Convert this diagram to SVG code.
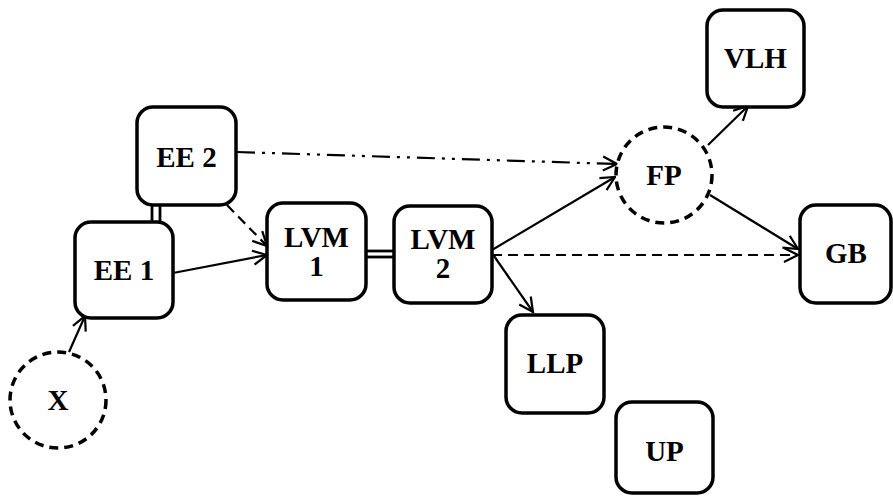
<svg xmlns="http://www.w3.org/2000/svg" width="893" height="496" viewBox="0 0 893 496">
<style>
.box{fill:#fff;stroke:#000;stroke-width:3.5}
.circ{fill:#fff;stroke:#000;stroke-width:3.5;stroke-dasharray:9 6}
.t{font-family:"Liberation Serif","Times New Roman",serif;font-weight:bold;font-size:29px;text-anchor:middle;fill:#000}
.c{fill:none;stroke:#000;stroke-width:2.2}
.dash{stroke-dasharray:10 6}
.dd{stroke-dasharray:18 7 3 7 3 7}
.dbl{fill:none;stroke:#000;stroke-width:2.8}
</style>
<defs>
<marker id="ah" viewBox="0 0 18 18" markerWidth="18" markerHeight="18" refX="16" refY="9" orient="auto" markerUnits="userSpaceOnUse">
<path d="M2,2 L16,9 L2,16" fill="none" stroke="#000" stroke-width="2.2" stroke-dasharray="none"/>
</marker>
</defs>
<g id="connectors">
<line class="dbl" x1="152" y1="204" x2="152" y2="223"/>
<line class="dbl" x1="160" y1="204" x2="160" y2="223"/>
<line class="dbl" x1="365" y1="251" x2="394" y2="251"/>
<line class="dbl" x1="365" y1="257" x2="394" y2="257"/>
<line class="c" x1="69" y1="352" x2="85" y2="316" marker-end="url(#ah)"/>
<line class="c" x1="173" y1="273" x2="267" y2="255" marker-end="url(#ah)"/>
<line class="c dash" x1="227" y1="205" x2="267" y2="246" marker-end="url(#ah)"/>
<line class="c dd" x1="237" y1="152" x2="617" y2="164" marker-end="url(#ah)"/>
<line class="c" x1="492" y1="250" x2="615" y2="177" marker-end="url(#ah)"/>
<line class="c dash" x1="492" y1="255" x2="798" y2="255" marker-end="url(#ah)"/>
<line class="c" x1="494" y1="256" x2="533" y2="312" marker-end="url(#ah)"/>
<line class="c" x1="708" y1="145" x2="748" y2="106" marker-end="url(#ah)"/>
<line class="c" x1="710" y1="195" x2="798" y2="249" marker-end="url(#ah)"/>
</g>
<g id="EE2"><rect class="box" x="137" y="107" width="99" height="98" rx="16"/><text class="t" x="186.5" y="167">EE 2</text></g>
<g id="EE1"><rect class="box" x="75" y="222" width="98" height="96" rx="16"/><text class="t" x="124" y="280">EE 1</text></g>
<g id="LVM1"><rect class="box" x="267" y="203" width="99" height="97" rx="16"/><text class="t" x="316.5" y="247">LVM</text><text class="t" x="316.5" y="276">1</text></g>
<g id="LVM2"><rect class="box" x="394" y="206" width="98" height="97" rx="16"/><text class="t" x="443" y="249">LVM</text><text class="t" x="443" y="278">2</text></g>
<g id="LLP"><rect class="box" x="506" y="315" width="98" height="98" rx="16"/><text class="t" x="555" y="373">LLP</text></g>
<g id="UP"><rect class="box" x="616" y="402" width="97" height="91" rx="16"/><text class="t" x="664.5" y="461">UP</text></g>
<g id="VLH"><rect class="box" x="707" y="10" width="97" height="97" rx="16"/><text class="t" x="755.5" y="68">VLH</text></g>
<g id="GB"><rect class="box" x="800" y="205" width="91" height="98" rx="16"/><text class="t" x="846" y="263">GB</text></g>
<g id="FP"><circle class="circ" cx="664" cy="175" r="48"/><text class="t" x="664" y="185">FP</text></g>
<g id="X"><circle class="circ" cx="58" cy="400" r="48"/><text class="t" x="58" y="410">X</text></g>
</svg>
